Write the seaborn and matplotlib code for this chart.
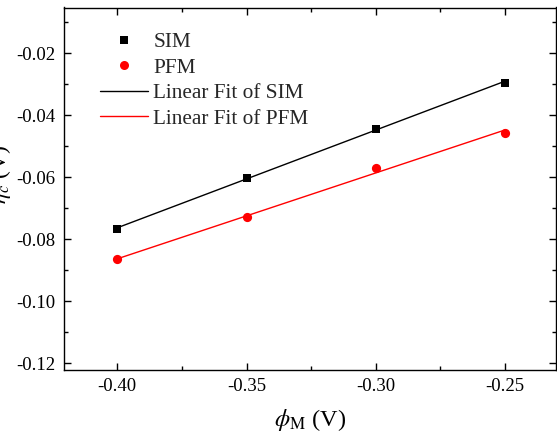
import numpy as np
import pandas as pd
import seaborn as sns
import matplotlib.pyplot as plt
from matplotlib.ticker import MultipleLocator, FormatStrFormatter
from matplotlib.lines import Line2D

# Measured threshold values versus metal potential
phi_m = [-0.40, -0.35, -0.30, -0.25]
eta_sim = [-0.0767, -0.0601, -0.0443, -0.0294]
eta_pfm = [-0.0865, -0.0729, -0.0570, -0.0456]

sim = pd.DataFrame({"phi": phi_m, "eta": eta_sim})
pfm = pd.DataFrame({"phi": phi_m, "eta": eta_pfm})

sns.set_theme(style="ticks")
plt.rcParams["font.family"] = ["Liberation Serif", "DejaVu Serif"]
plt.rcParams["mathtext.fontset"] = "stix"
plt.rcParams["axes.unicode_minus"] = False

RED = "#ff0000"

fig = plt.figure(figsize=(5.57, 4.38), dpi=100)
ax = fig.add_axes([64 / 557, 68.5 / 438, 492 / 557, 362 / 438])

# linear fits
sns.regplot(data=sim, x="phi", y="eta", scatter=False, ci=None,
            color="black", line_kws=dict(lw=1.0), ax=ax)
sns.regplot(data=pfm, x="phi", y="eta", scatter=False, ci=None,
            color=RED, line_kws=dict(lw=1.0), ax=ax)

# data points
sns.scatterplot(data=sim, x="phi", y="eta", marker="s", s=32, color="black",
                linewidth=0, zorder=3, ax=ax)
sns.scatterplot(data=pfm, x="phi", y="eta", marker="o", s=44, color=RED,
                linewidth=0, zorder=3, ax=ax)

ax.set_xlim(-0.4206, -0.2303)
ax.set_ylim(-0.1220, -0.0052)

ax.xaxis.set_major_locator(MultipleLocator(0.05))
ax.xaxis.set_minor_locator(MultipleLocator(0.025))
ax.yaxis.set_major_locator(MultipleLocator(0.02))
ax.yaxis.set_minor_locator(MultipleLocator(0.01))
ax.xaxis.set_major_formatter(FormatStrFormatter("%.2f"))
ax.yaxis.set_major_formatter(FormatStrFormatter("%.2f"))

ax.tick_params(which="both", direction="in", top=True, right=True,
               width=1.0, color="black", labelcolor="black")
ax.tick_params(which="major", length=4.8, labelsize=13.5, pad=6)
ax.tick_params(which="minor", length=2.8)
for sp in ax.spines.values():
    sp.set_linewidth(1.0)
    sp.set_color("black")

ax.set_xlabel(r"$\phi_{\mathrm{M}}$ (V)", fontsize=17.5, color="black", labelpad=9)
ax.set_ylabel(r"$\eta_c$ (V)", fontsize=17, color="black")
ax.yaxis.set_label_coords(-0.104, 0.54)

handles = [
    Line2D([], [], ls="none", marker="s", markersize=5.5, color="black", markeredgewidth=0),
    Line2D([], [], ls="none", marker="o", markersize=6.5, color=RED, markeredgewidth=0),
    Line2D([], [], color="black", lw=1.0),
    Line2D([], [], color=RED, lw=1.0),
]
labels = ["SIM", "PFM", "Linear Fit of SIM", "Linear Fit of PFM"]
ax.legend(handles, labels, loc="upper left", bbox_to_anchor=(0.073, 0.932),
          frameon=False, fontsize=15.3, handlelength=2.27, handletextpad=0.25,
          labelspacing=0.27, borderpad=0, borderaxespad=0)

fig.savefig("out.png", dpi=100)
